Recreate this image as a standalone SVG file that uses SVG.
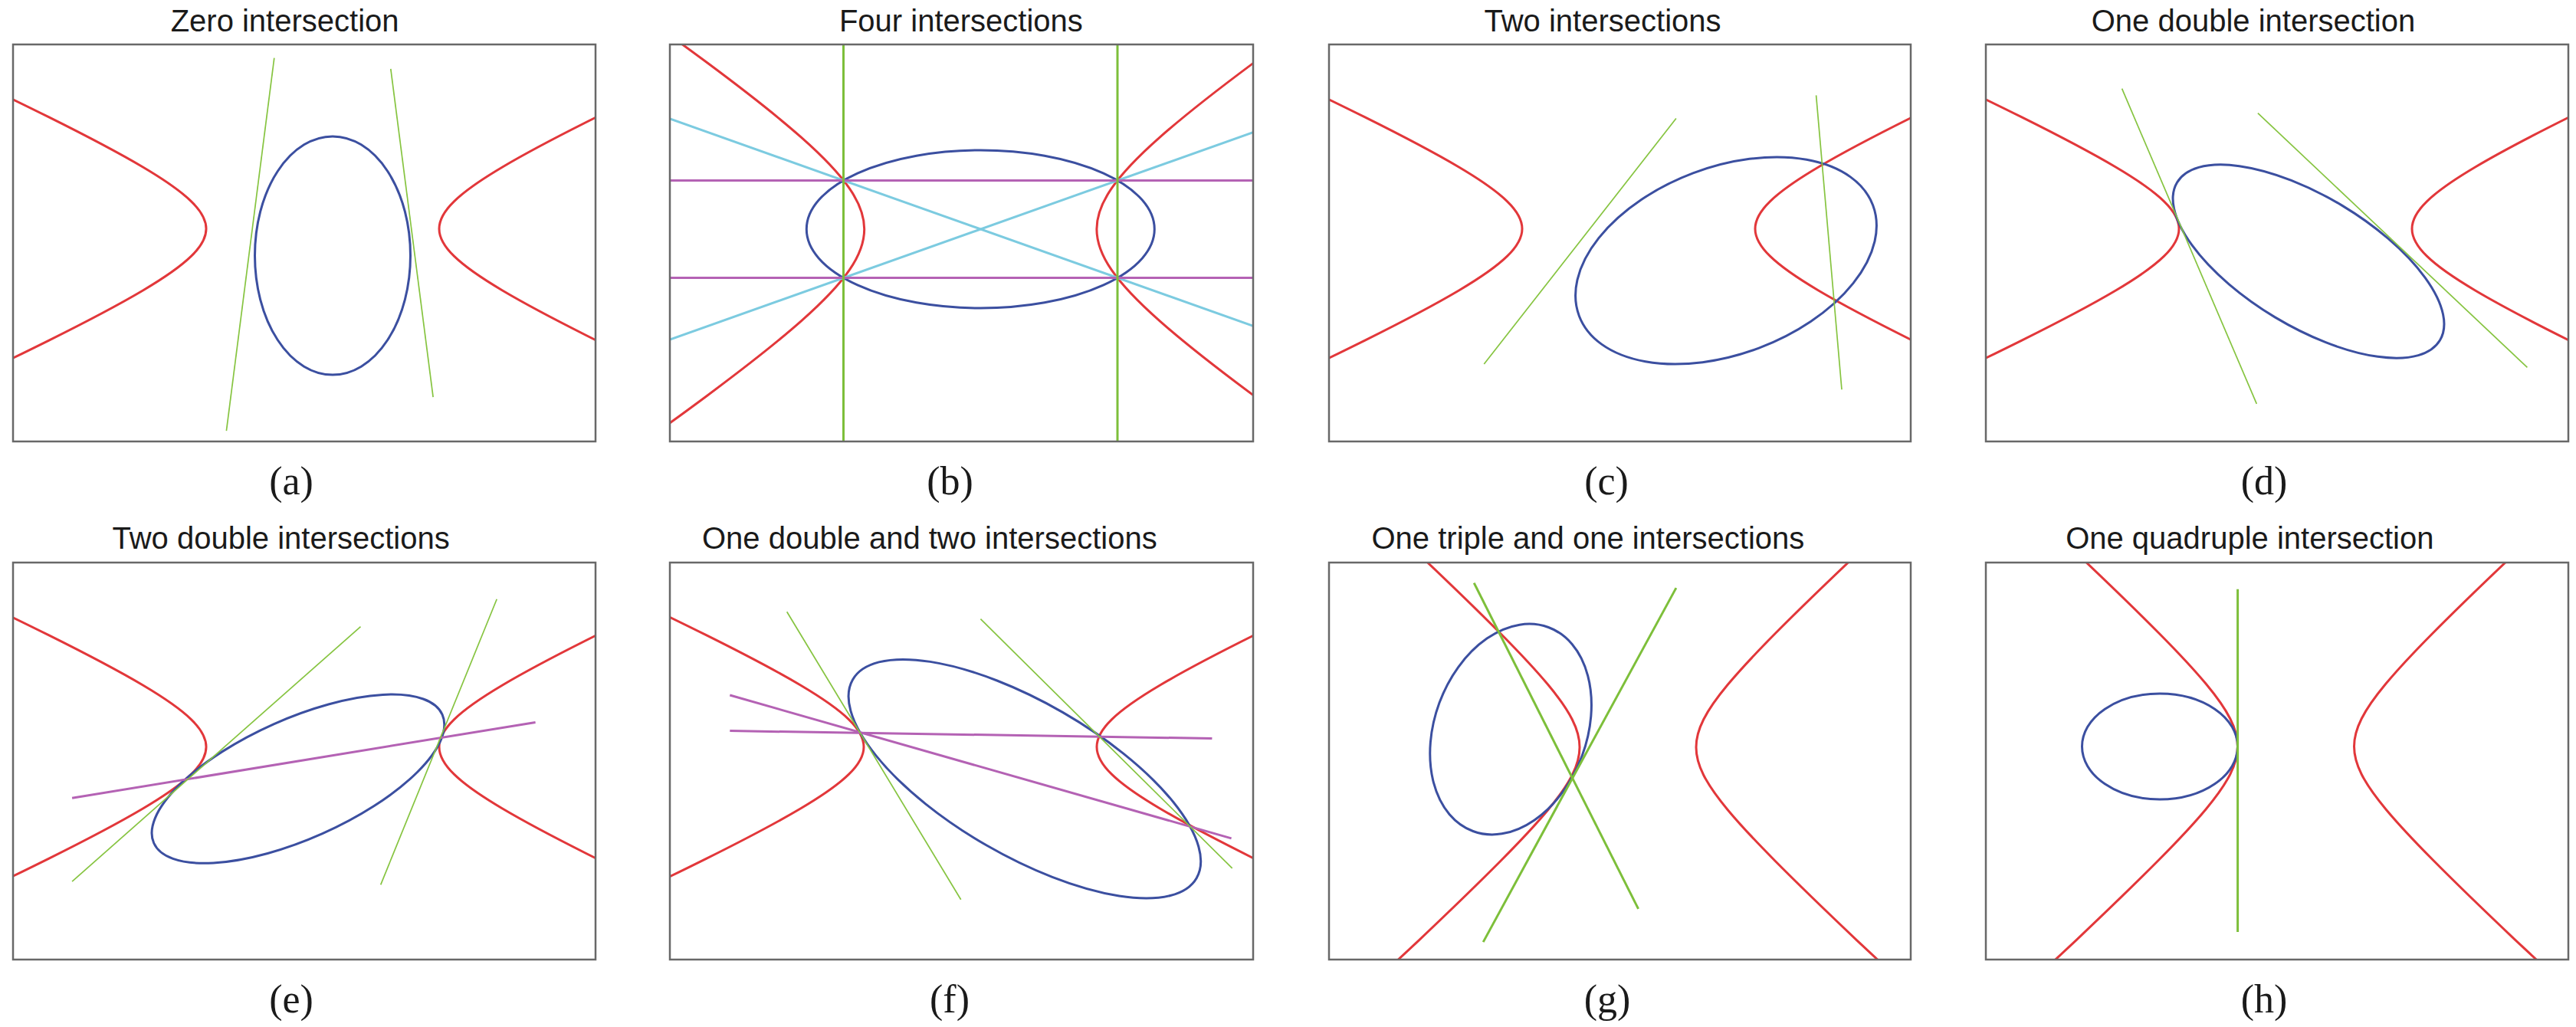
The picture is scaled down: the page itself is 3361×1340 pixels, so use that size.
<svg xmlns="http://www.w3.org/2000/svg" xmlns:xlink="http://www.w3.org/1999/xlink" width="3361" height="1340" viewBox="0 0 3361 1340">
<style>
.box{fill:none;stroke:#686868;stroke-width:2.5}
.hyp{fill:none;stroke:#e2373a;stroke-width:3;vector-effect:non-scaling-stroke}
.ell{fill:none;stroke:#3b4fa0;stroke-width:3}
.gt{stroke:#86c440;stroke-width:1.7;fill:none}
.gk{stroke:#7dbf3a;stroke-width:3;fill:none}
.pu{stroke:#b462b4;stroke-width:3;fill:none}
.cy{stroke:#7ccbe0;stroke-width:3;fill:none}
.title{font-family:"Liberation Sans",Arial,sans-serif;font-size:40px;fill:#1a1a1a;text-anchor:middle}
.lab{font-family:"Liberation Serif","Times New Roman",serif;font-size:52px;fill:#1a1a1a;text-anchor:middle}
</style>
<defs>
<path id="hb" class="hyp" d="M1657.28,-1654.26 C1381.57,-1378.05 1173.73,-1169.58 1006.77,-1001.79 C839.80,-833.99 714.07,-707.23 613.23,-605.02 C512.39,-502.82 436.67,-425.39 376.22,-362.69 C315.77,-299.98 270.73,-252.14 235.24,-212.93 C199.75,-173.72 173.90,-143.24 154.31,-117.52 C134.72,-91.80 121.45,-70.90 112.76,-52.11 C104.08,-33.32 100,-16.67 100,0 C100,16.67 104.08,33.32 112.76,52.11 C121.45,70.90 134.72,91.80 154.31,117.52 C173.90,143.24 199.75,173.72 235.24,212.93 C270.73,252.14 315.77,299.98 376.22,362.69 C436.67,425.39 512.39,502.82 613.23,605.02 C714.07,707.23 839.80,833.99 1006.77,1001.79 C1173.73,1169.58 1381.57,1378.05 1657.28,1654.26"/>
<clipPath id="ca"><rect x="17" y="58" width="760" height="518"/></clipPath>
<clipPath id="cb"><rect x="874" y="58" width="761" height="518"/></clipPath>
<clipPath id="cc"><rect x="1734" y="58" width="759" height="518"/></clipPath>
<clipPath id="cd"><rect x="2591" y="58" width="760" height="518"/></clipPath>
<clipPath id="ce"><rect x="17" y="734" width="760" height="518"/></clipPath>
<clipPath id="cf"><rect x="874" y="734" width="761" height="518"/></clipPath>
<clipPath id="cg"><rect x="1734" y="734" width="759" height="518"/></clipPath>
<clipPath id="ch"><rect x="2591" y="734" width="760" height="518"/></clipPath>
</defs>
<rect width="3361" height="1340" fill="#ffffff"/>

<g id="panel-a">
<text class="title" x="371.6" y="41">Zero intersection</text>
<g clip-path="url(#ca)">
<use href="#hb" transform="translate(421,298.5) scale(1.52,0.685)"/>
<use href="#hb" transform="translate(421,298.5) scale(-1.52,0.685)"/>
<ellipse class="ell" cx="434" cy="333.5" rx="101.5" ry="155.6"/>
<line class="gt" x1="357.8" y1="75.6" x2="295.4" y2="562.2"/>
<line class="gt" x1="509.8" y1="89.8" x2="565.1" y2="518.1"/>
</g>
<rect class="box" x="17" y="58" width="760" height="518"/>
<text class="lab" x="380" y="645">(a)</text>
</g>

<g id="panel-b">
<text class="title" x="1253.9" y="41">Four intersections</text>
<g clip-path="url(#cb)">
<use href="#hb" transform="translate(1279.3,299) scale(1.516,1.02)"/>
<use href="#hb" transform="translate(1279.3,299) scale(-1.516,1.02)"/>
<ellipse class="ell" cx="1279.3" cy="299" rx="227" ry="103"/>
<line class="cy" x1="874" y1="155" x2="1635" y2="425.4"/>
<line class="cy" x1="874" y1="443" x2="1635" y2="172.6"/>
<line class="pu" x1="874" y1="235.5" x2="1635" y2="235.5"/>
<line class="pu" x1="874" y1="362.5" x2="1635" y2="362.5"/>
<line class="gk" x1="1100.5" y1="58" x2="1100.5" y2="576"/>
<line class="gk" x1="1458" y1="58" x2="1458" y2="576"/>
</g>
<rect class="box" x="874" y="58" width="761" height="518"/>
<text class="lab" x="1239.6" y="645">(b)</text>
</g>

<g id="panel-c">
<text class="title" x="2091" y="41">Two intersections</text>
<g clip-path="url(#cc)">
<use href="#hb" transform="translate(2138,298.5) scale(1.52,0.685)"/>
<use href="#hb" transform="translate(2138,298.5) scale(-1.52,0.685)"/>
<ellipse class="ell" cx="0" cy="0" rx="204.8" ry="121.9" transform="translate(2252,340) rotate(-20.65)"/>
<line class="gt" x1="2186.9" y1="154.6" x2="1936.3" y2="475"/>
<line class="gt" x1="2369.6" y1="124.4" x2="2403" y2="508.2"/>
</g>
<rect class="box" x="1734" y="58" width="759" height="518"/>
<text class="lab" x="2096" y="645">(c)</text>
</g>

<g id="panel-d">
<text class="title" x="2940" y="41">One double intersection</text>
<g clip-path="url(#cd)">
<use href="#hb" transform="translate(2995,298.5) scale(1.52,0.685)"/>
<use href="#hb" transform="translate(2995,298.5) scale(-1.52,0.685)"/>
<ellipse class="ell" cx="0" cy="0" rx="200" ry="85" transform="translate(3012,341) rotate(31)"/>
<line class="gt" x1="2768.6" y1="115.7" x2="2944.3" y2="526.8"/>
<line class="gt" x1="2945.9" y1="147.7" x2="3297.4" y2="479.3"/>
</g>
<rect class="box" x="2591" y="58" width="760" height="518"/>
<text class="lab" x="2954" y="645">(d)</text>
</g>

<g id="panel-e">
<text class="title" x="366.6" y="716">Two double intersections</text>
<g clip-path="url(#ce)">
<use href="#hb" transform="translate(421,974.5) scale(1.52,0.685)"/>
<use href="#hb" transform="translate(421,974.5) scale(-1.52,0.685)"/>
<ellipse class="ell" cx="0" cy="0" rx="206" ry="78.2" transform="translate(388.9,1016.2) rotate(-24)"/>
<line class="pu" x1="94.1" y1="1041.3" x2="698.6" y2="942.4"/>
<line class="gt" x1="94.1" y1="1150.1" x2="470.5" y2="817.6"/>
<line class="gt" x1="496.7" y1="1154.4" x2="648.2" y2="781.8"/>
</g>
<rect class="box" x="17" y="734" width="760" height="518"/>
<text class="lab" x="380" y="1321">(e)</text>
</g>

<g id="panel-f">
<text class="title" x="1212.8" y="716">One double and two intersections</text>
<g clip-path="url(#cf)">
<use href="#hb" transform="translate(1279,974.5) scale(1.52,0.685)"/>
<use href="#hb" transform="translate(1279,974.5) scale(-1.52,0.685)"/>
<ellipse class="ell" cx="0" cy="0" rx="259" ry="100" transform="translate(1336.9,1016.2) rotate(30)"/>
<line class="pu" x1="952.3" y1="953.6" x2="1581.4" y2="963.5"/>
<line class="pu" x1="952.3" y1="907" x2="1606.6" y2="1093.9"/>
<line class="gt" x1="1026.7" y1="798.2" x2="1253.7" y2="1173.8"/>
<line class="gt" x1="1279.4" y1="807.7" x2="1607.7" y2="1132.8"/>
</g>
<rect class="box" x="874" y="734" width="761" height="518"/>
<text class="lab" x="1239" y="1321">(f)</text>
</g>

<g id="panel-g">
<text class="title" x="2071.9" y="716">One triple and one intersections</text>
<g clip-path="url(#cg)">
<use href="#hb" transform="translate(2137,975) scale(0.76,0.695)"/>
<use href="#hb" transform="translate(2137,975) scale(-0.76,0.695)"/>
<ellipse class="ell" cx="0" cy="0" rx="99.3" ry="141.8" transform="translate(1971.1,951.5) rotate(20.3)"/>
<line class="gk" x1="1923.2" y1="760.6" x2="2137.6" y2="1185.9"/>
<line class="gk" x1="2186.9" y1="767.1" x2="1935.2" y2="1229.1"/>
</g>
<rect class="box" x="1734" y="734" width="759" height="518"/>
<text class="lab" x="2097" y="1321">(g)</text>
</g>

<g id="panel-h">
<text class="title" x="2935.3" y="716">One quadruple intersection</text>
<g clip-path="url(#ch)">
<use href="#hb" transform="translate(2995.5,974) scale(0.76,0.695)"/>
<use href="#hb" transform="translate(2995.5,974) scale(-0.76,0.695)"/>
<ellipse class="ell" cx="2818" cy="974" rx="101.5" ry="69"/>
<line class="gk" x1="2919.6" y1="768.8" x2="2919.6" y2="1216.1"/>
</g>
<rect class="box" x="2591" y="734" width="760" height="518"/>
<text class="lab" x="2954" y="1321">(h)</text>
</g>
</svg>
